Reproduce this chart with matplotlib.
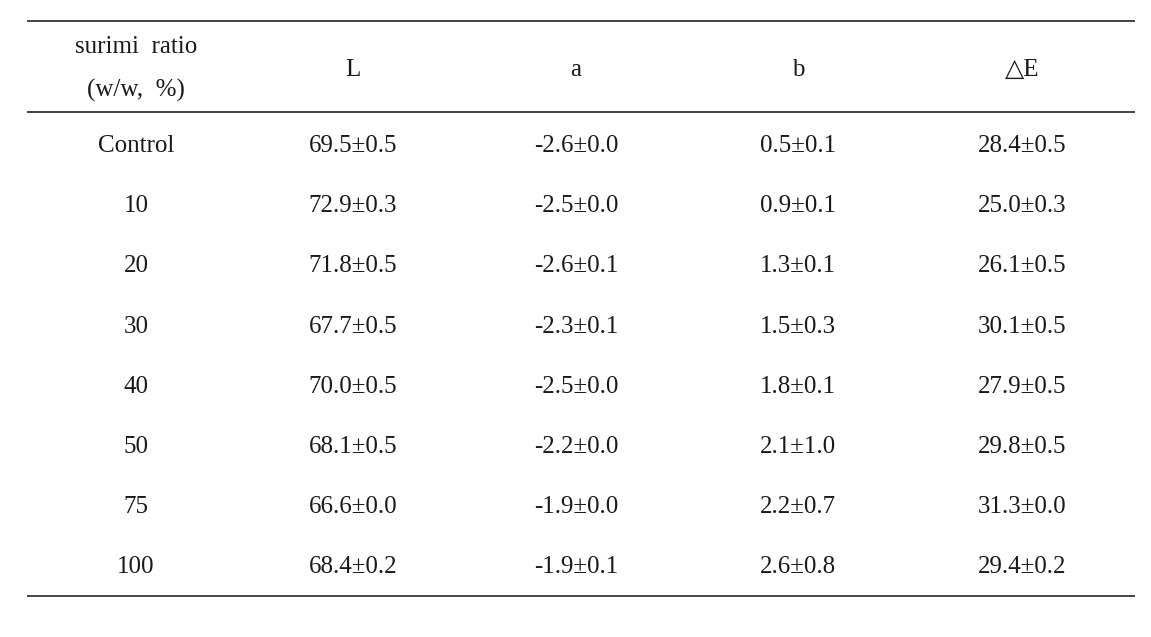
import matplotlib
matplotlib.use("Agg")
import matplotlib.pyplot as plt

# ---- data ----
row_labels = ["Control", "10", "20", "30", "40", "50", "75", "100"]
col_headers = ["surimi  ratio\n(w/w,  %)", "L", "a", "b", "\u25b3E"]
L_vals = ["69.5\u00b10.5", "72.9\u00b10.3", "71.8\u00b10.5", "67.7\u00b10.5",
          "70.0\u00b10.5", "68.1\u00b10.5", "66.6\u00b10.0", "68.4\u00b10.2"]
a_vals = ["-2.6\u00b10.0", "-2.5\u00b10.0", "-2.6\u00b10.1", "-2.3\u00b10.1",
          "-2.5\u00b10.0", "-2.2\u00b10.0", "-1.9\u00b10.0", "-1.9\u00b10.1"]
b_vals = ["0.5\u00b10.1", "0.9\u00b10.1", "1.3\u00b10.1", "1.5\u00b10.3",
          "1.8\u00b10.1", "2.1\u00b11.0", "2.2\u00b10.7", "2.6\u00b10.8"]
E_vals = ["28.4\u00b10.5", "25.0\u00b10.3", "26.1\u00b10.5", "30.1\u00b10.5",
          "27.9\u00b10.5", "29.8\u00b10.5", "31.3\u00b10.0", "29.4\u00b10.2"]

columns = [row_labels, L_vals, a_vals, b_vals, E_vals]

# ---- layout ----
W, H = 1151, 637
fig = plt.figure(figsize=(W / 100, H / 100), dpi=100)
ax = fig.add_axes([0, 0, 1, 1])
ax.set_xlim(0, W)
ax.set_ylim(H, 0)
ax.axis("off")

fam = ["Liberation Serif", "DejaVu Serif"]
fs = 18
col_x = [136, 353, 576, 798, 1022]
header_y = 69
row_y0, row_dy = 146, 60.2
tc = "#1a1a1a"

for i, (x, h) in enumerate(zip(col_x, col_headers)):
    ax.text(x, header_y if i == 0 else header_y + 1, h, ha="center", va="center",
            fontsize=fs, family=fam, color=tc, linespacing=2.15)

for ci, col in enumerate(columns):
    for ri, v in enumerate(col):
        ax.text(col_x[ci], row_y0 + ri * row_dy, v, ha="center", va="center",
                fontsize=fs, family=fam, color=tc)

for y in (21, 112, 596):
    ax.plot([27, 1135], [y, y], color="#111111", lw=1.1, solid_capstyle="butt")

fig.savefig("out.png", dpi=100, facecolor="white")
